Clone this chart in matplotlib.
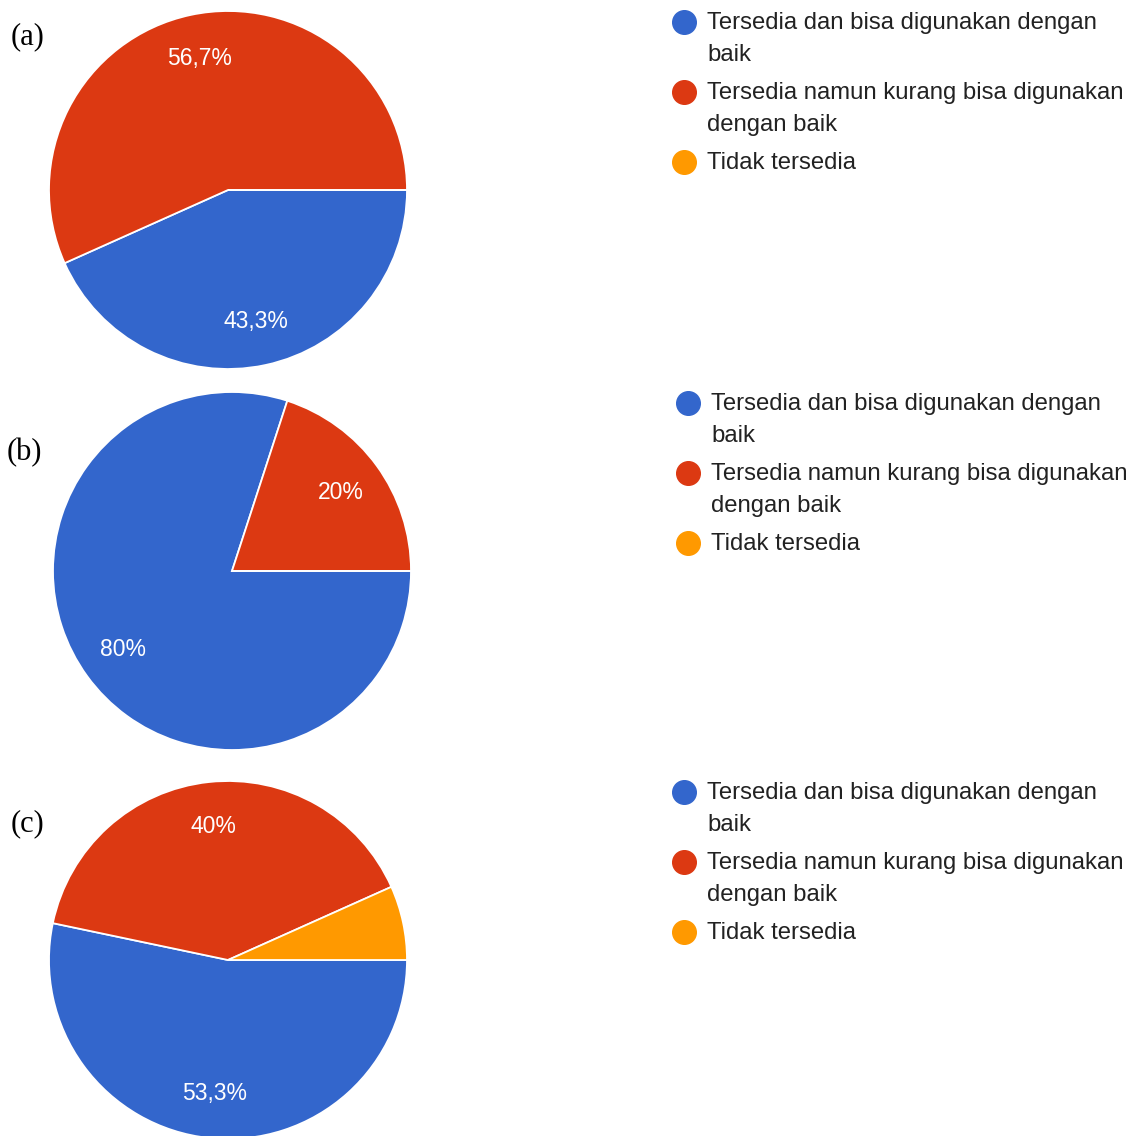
import matplotlib
matplotlib.use("Agg")
import matplotlib.pyplot as plt

# data
categories = ["Tersedia dan bisa digunakan dengan baik",
              "Tersedia namun kurang bisa digunakan dengan baik",
              "Tidak tersedia"]
legend_lines = [["Tersedia dan bisa digunakan dengan", "baik"],
                ["Tersedia namun kurang bisa digunakan", "dengan baik"],
                ["Tidak tersedia"]]
values_a = [43.3, 56.7, 0.0]
values_b = [80.0, 20.0, 0.0]
values_c = [53.3, 40.0, 6.7]
panel_labels = ["(a)", "(b)", "(c)"]
colors = ["#3366CC", "#DC3912", "#FF9900"]

W, H = 1133, 1136
DPI = 100
fig = plt.figure(figsize=(W / DPI, H / DPI), dpi=DPI)

# pixel layout: pie centre, radius, legend anchor, panel label position
R = 179
pies = [
    dict(vals=values_a, cx=228, cy=190, lx=684, ly=22, tx=11, ty=37),
    dict(vals=values_b, cx=232, cy=571, lx=688, ly=403, tx=7, ty=453),
    dict(vals=values_c, cx=228, cy=960, lx=684, ly=792, tx=11, ty=824),
]


def fmt_pct(p):
    if p < 10:
        return ""
    s = "%.1f" % p
    if s.endswith(".0"):
        s = s[:-2]
    return s.replace(".", ",") + "%"


# overlay axes in pixel coords for legends and panel labels
over = fig.add_axes([0, 0, 1, 1])
over.set_xlim(0, W)
over.set_ylim(H, 0)
over.axis("off")

for i, p in enumerate(pies):
    left = (p["cx"] - R) / W
    bottom = 1 - (p["cy"] + R) / H
    ax = fig.add_axes([left, bottom, 2 * R / W, 2 * R / H])
    vals = p["vals"]
    wedges, texts, autotexts = ax.pie(
        vals, colors=colors, startangle=0, counterclock=False,
        autopct=fmt_pct, pctdistance=0.75,
        wedgeprops=dict(edgecolor="white", linewidth=1.3),
        textprops=dict(color="white", fontsize=16.5, family="Liberation Sans"))
    ax.set_xlim(-1, 1)
    ax.set_ylim(-1, 1)
    ax.set_aspect("equal")
    ax.axis("off")

    over.text(p["tx"], p["ty"], panel_labels[i], fontsize=22,
              family="Liberation Serif", va="center", ha="left", color="black")

    y = p["ly"]
    for c, lines in zip(colors, legend_lines):
        over.plot(p["lx"], y, "o", ms=17, color=c, mec=c, clip_on=False)
        for line in lines:
            over.text(p["lx"] + 23, y + 1, line, fontsize=17.2,
                      family="Liberation Sans", color="#222222",
                      va="center", ha="left")
            y += 32
        y += 6

over.set_zorder(5)
fig.savefig("out.png", dpi=DPI)
